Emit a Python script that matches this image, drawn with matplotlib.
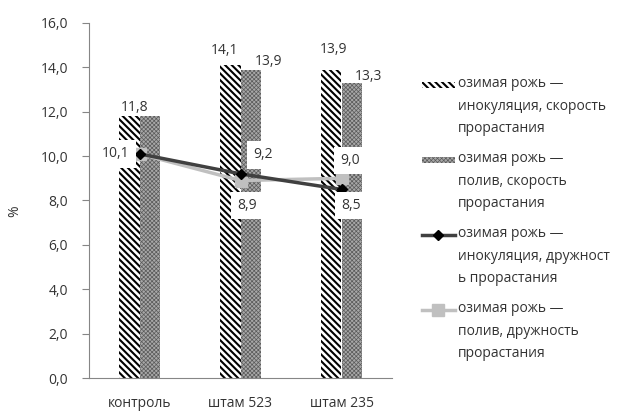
import matplotlib
matplotlib.use("Agg")
import matplotlib.pyplot as plt
from matplotlib.patches import Rectangle
from matplotlib.lines import Line2D
import numpy as np

plt.rcParams['font.family'] = ['Open Sans', 'DejaVu Sans']
plt.rcParams['font.size'] = 10

categories = ["контроль", "штам 523", "штам 235"]
inoc_speed = [11.8, 14.1, 13.9]
water_speed = [11.8, 13.9, 13.3]
inoc_unif = [10.1, 9.2, 8.5]
water_unif = [10.1, 8.9, 9.0]
y_ticks = [0, 2, 4, 6, 8, 10, 12, 14, 16]
series_names = [
    "озимая рожь —\nинокуляция, скорость\nпрорастания",
    "озимая рожь —\nполив, скорость\nпрорастания",
    "озимая рожь —\nинокуляция, дружност\nь прорастания",
    "озимая рожь —\nполив, дружность\nпрорастания",
]

W, H = 635, 415
fig = plt.figure(figsize=(W / 100, H / 100), dpi=100)
ax = fig.add_axes([89 / W, 37 / H, 303 / W, 355 / H])

x = np.arange(len(categories))
bw = 0.2
HATCH_BAR = dict(facecolor='white', edgecolor='black', hatch='\\\\\\\\\\', linewidth=0)
DOT_BAR = dict(facecolor='#a8a8a8', edgecolor='#5a5a5a', hatch='xxxxxxxx', linewidth=0)
HATCH_LW = 1.5
DOT_LW = 0.5


def set_hlw(patch, lw):
    if hasattr(patch, 'set_hatch_linewidth'):
        patch.set_hatch_linewidth(lw)


b1 = ax.bar(x - bw / 2, inoc_speed, bw, **HATCH_BAR)
b2 = ax.bar(x + bw / 2, water_speed, bw, **DOT_BAR)
for p in b1:
    set_hlw(p, HATCH_LW)
for p in b2:
    set_hlw(p, DOT_LW)

ax.plot(x, inoc_unif, color='#404040', lw=2.5, marker='D', ms=5,
        mfc='black', mec='black', zorder=4)
ax.plot(x, water_unif, color='#c0c0c0', lw=2.5, marker='s', ms=8,
        mfc='#c0c0c0', mec='#c0c0c0', zorder=3)

ax.set_xlim(-0.5, 2.5)
ax.set_ylim(0, 16)
ax.set_yticks(y_ticks)
ax.set_yticklabels([f"{v:.1f}".replace('.', ',') for v in y_ticks])
ax.set_xticks(x)
ax.set_xticklabels(categories)
for s in ('top', 'right'):
    ax.spines[s].set_visible(False)
for s in ('left', 'bottom'):
    ax.spines[s].set_color('#868686')
ax.tick_params(axis='y', length=5, color='#868686', pad=10, labelsize=10, labelcolor='#333333')
ax.tick_params(axis='x', length=0, pad=13, labelsize=10, labelcolor='#333333')
ax.set_ylabel('%', fontsize=10, color='#333333')
ax.yaxis.set_label_coords(-0.22, 0.47)

px = 0.72  # points per pixel at 100 dpi


def fmt(v):
    return f"{v:.1f}".replace('.', ',')


def lab(xv, yv, dx, dy, box):
    kw = dict(xy=(xv, yv), xytext=(dx * px, dy * px), textcoords='offset points',
              ha='center', va='center', fontsize=10, color='#333333', zorder=6)
    if box:
        kw['bbox'] = dict(boxstyle='square,pad=0.45', fc='white', ec='none')
    ax.annotate(fmt(yv), **kw)


# bar value labels (a label that would sit exactly on another one is drawn once)
bar_off_a = [(5, 9), (-6, 15), (2, 20)]
bar_off_b = [(-15, 9), (18, 8), (17, 6)]
for i in range(3):
    lab(x[i] - bw / 2, inoc_speed[i], *bar_off_a[i], False)
    if not (water_speed[i] == inoc_speed[i] and i == 0):
        lab(x[i] + bw / 2, water_speed[i], *bar_off_b[i], False)

# line value labels
line_off_a = [(-24, 0), (22, 19), (10, -16)]
line_off_b = [(-24, 0), (7, -25), (9, 18)]
for i in range(3):
    lab(x[i], inoc_unif[i], *line_off_a[i], True)
    if not (water_unif[i] == inoc_unif[i] and line_off_a[i] == line_off_b[i]):
        lab(x[i], water_unif[i], *line_off_b[i], True)

# legend
tx = 458 / W
hx0, hx1 = 422 / W, 455 / W
tops = [85, 160, 235, 310]
for i, (name, top) in enumerate(zip(series_names, tops)):
    yc = 1 - top / H
    fig.text(tx, yc + 9 / H, name, ha='left', va='top', fontsize=10,
             color='#333333', linespacing=1.7)
    if i in (0, 1):
        style = HATCH_BAR if i == 0 else DOT_BAR
        r = Rectangle((hx0, yc - 3 / H), hx1 - hx0, 6 / H, transform=fig.transFigure,
                      **style)
        set_hlw(r, HATCH_LW if i == 0 else DOT_LW)
        fig.patches.append(r)
    elif i == 2:
        fig.lines.append(Line2D([hx0, hx1], [yc, yc], transform=fig.transFigure,
                                color='#404040', lw=2.5))
        fig.lines.append(Line2D([(hx0 + hx1) / 2], [yc], transform=fig.transFigure,
                                marker='D', ms=5, mfc='black', mec='black', lw=0))
    else:
        fig.lines.append(Line2D([hx0, hx1], [yc, yc], transform=fig.transFigure,
                                color='#c0c0c0', lw=2.5))
        fig.lines.append(Line2D([(hx0 + hx1) / 2], [yc], transform=fig.transFigure,
                                marker='s', ms=8, mfc='#c0c0c0', mec='#c0c0c0', lw=0))

fig.savefig('out.png', dpi=100, facecolor='white')
